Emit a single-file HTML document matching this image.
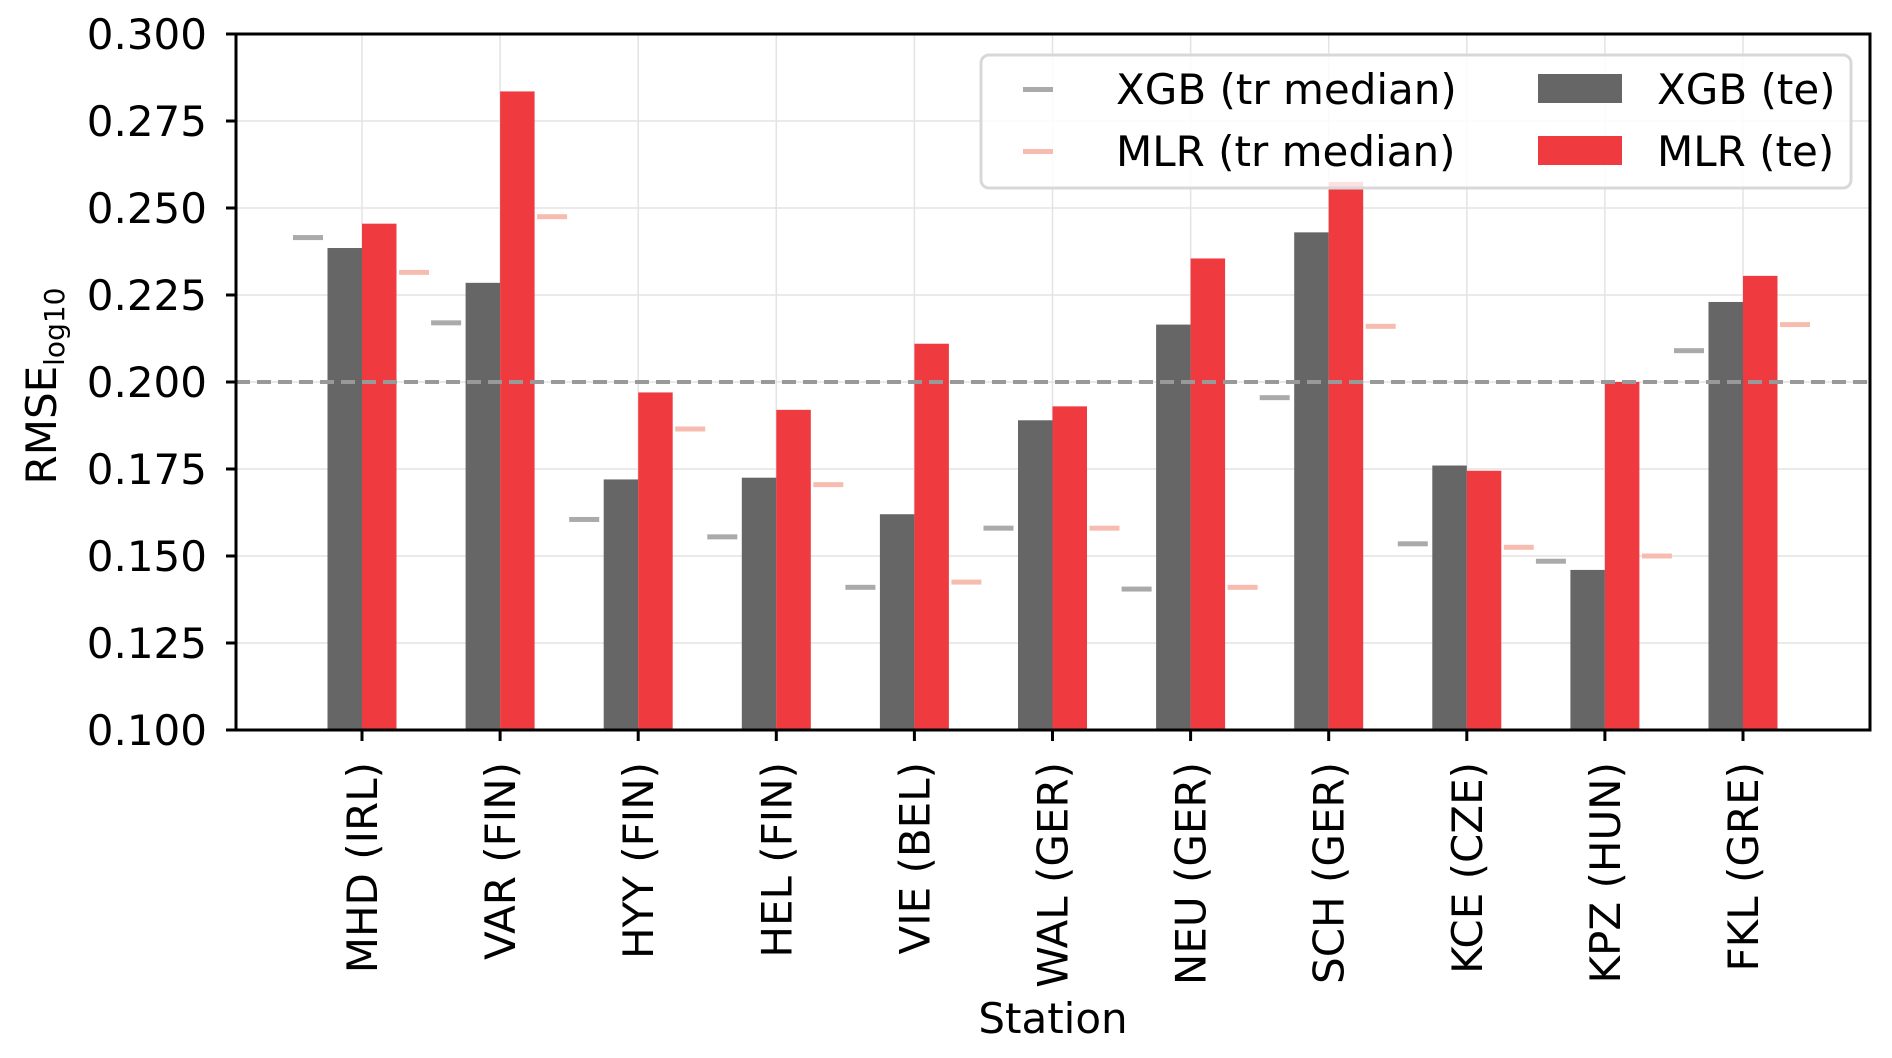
<!DOCTYPE html>
<html><head><meta charset="utf-8"><style>html,body{margin:0;padding:0;background:#fff}</style></head><body>
<svg xmlns="http://www.w3.org/2000/svg" width="1892" height="1053" viewBox="0 0 1892 1053" font-family="DejaVu Sans, Liberation Sans, sans-serif">
<rect width="1892" height="1053" fill="#fff"/>
<g id="grid" stroke="#e3e3e3" stroke-width="1.5"></g>
<g id="bars"></g>
<line x1="236" y1="382" x2="1870" y2="382" stroke="#999" stroke-width="4" stroke-dasharray="14,7"/>
<rect x="236" y="34" width="1634" height="696" fill="none" stroke="#000" stroke-width="3"/>
<g id="ticks" stroke="#000" stroke-width="3"></g>
<g id="labels" font-size="42" fill="#000"></g>
<text x="1053" y="1033" font-size="42" text-anchor="middle">Station</text>
<text transform="translate(56,386) rotate(-90)" font-size="42" text-anchor="middle">RMSE<tspan font-size="28" dy="8">log10</tspan></text>
<rect x="981" y="55" width="870" height="133" rx="8" fill="#fff" fill-opacity="0.85" stroke="#d8d8d8" stroke-width="3"/>
<rect x="1023" y="87" width="30" height="5" fill="#aaa"/>
<rect x="1023" y="149" width="30" height="5" fill="#f7bcb0"/>
<text x="1116" y="104" font-size="42">XGB (tr median)</text>
<text x="1116" y="166" font-size="42">MLR (tr median)</text>
<rect x="1538" y="74" width="84" height="29" fill="#666"/>
<rect x="1538" y="136" width="84" height="29" fill="#ef3b3f"/>
<text x="1657" y="104" font-size="42">XGB (te)</text>
<text x="1657" y="166" font-size="42">MLR (te)</text>
<script>
(function(){
var NS="http://www.w3.org/2000/svg";
function el(p,t,a,txt){var e=document.createElementNS(NS,t);for(var k in a)e.setAttribute(k,a[k]);if(txt)e.textContent=txt;document.getElementById(p).appendChild(e);}
function Y(v){return 730-(v-0.1)*3480;}
var names=["MHD (IRL)","VAR (FIN)","HYY (FIN)","HEL (FIN)","VIE (BEL)","WAL (GER)","NEU (GER)","SCH (GER)","KCE (CZE)","KPZ (HUN)","FKL (GRE)"];
var d=[[0.2385,0.2455,0.2415,0.2315],[0.2285,0.2835,0.217,0.2475],[0.172,0.197,0.1605,0.1865],[0.1725,0.192,0.1555,0.1705],[0.162,0.211,0.141,0.1425],[0.189,0.193,0.158,0.158],[0.2165,0.2355,0.1405,0.141],[0.243,0.2575,0.1955,0.216],[0.176,0.1745,0.1535,0.1525],[0.146,0.2,0.1485,0.15],[0.223,0.2305,0.209,0.2165]];
for(var j=0;j<9;j++){var v=0.1+j*0.025,y=Y(v);
 el("grid","line",{x1:236,x2:1870,y1:y,y2:y});
 el("ticks","line",{x1:226,x2:236,y1:y,y2:y});
 el("labels","text",{x:207,y:y+15,"text-anchor":"end"},v.toFixed(3));}
for(var i=0;i<11;i++){var x=362+i*138.1,r=d[i];
 el("grid","line",{x1:x,x2:x,y1:34,y2:730});
 el("bars","rect",{x:x-34.5,y:Y(r[0]),width:34.5,height:730-Y(r[0]),fill:"#666"});
 el("bars","rect",{x:x,y:Y(r[1]),width:34.5,height:730-Y(r[1]),fill:"#ef3b3f"});
 el("bars","rect",{x:x-69,y:Y(r[2])-2.5,width:30,height:5,fill:"#aaa"});
 el("bars","rect",{x:x+37,y:Y(r[3])-2.5,width:30,height:5,fill:"#f7bcb0"});
 el("ticks","line",{x1:x,x2:x,y1:730,y2:741});
 el("labels","text",{transform:"translate("+(x+15)+",762) rotate(-90)","text-anchor":"end"},names[i]);}
})();
</script>
</svg>
</body></html>
